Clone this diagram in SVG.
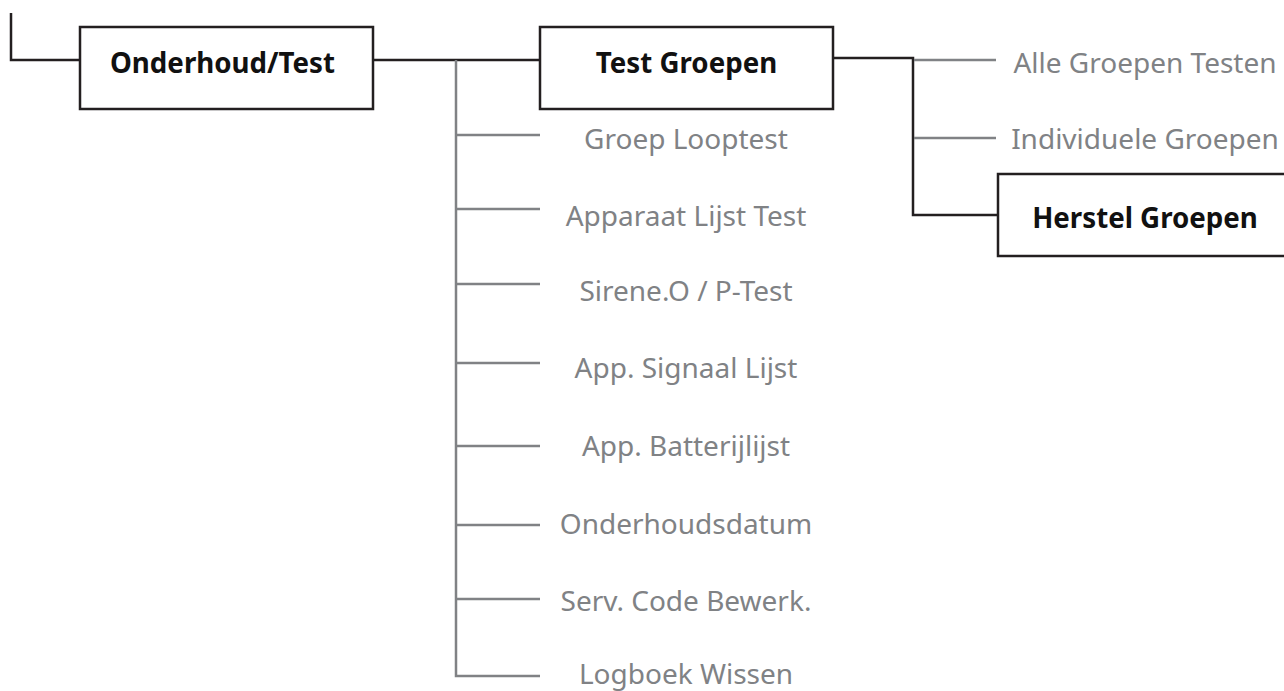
<svg xmlns="http://www.w3.org/2000/svg" width="1284" height="691" viewBox="0 0 1284 691">
<style>
.box{fill:#fff;stroke:#231f20;stroke-width:2.5}
.dk{fill:none;stroke:#231f20;stroke-width:2.5}
.gr{fill:none;stroke:#808285;stroke-width:2.5}
.bt{font-family:"Noto Sans","Open Sans",sans-serif;font-weight:bold;font-size:27.7px;fill:#111;text-anchor:middle}
.lt{font-family:"Noto Sans","Open Sans",sans-serif;font-size:28px;fill:#808285;text-anchor:middle}
</style>
<rect width="1284" height="691" fill="#fff"/>
<g id="connectors">
<polyline class="dk" points="11,13 11,60 80,60"/>
<line class="dk" x1="373" y1="60" x2="540" y2="60"/>
<polyline class="gr" points="456,60 456,676 540,676"/>
<line class="gr" x1="456" y1="135" x2="540" y2="135"/>
<line class="gr" x1="456" y1="209" x2="540" y2="209"/>
<line class="gr" x1="456" y1="284" x2="540" y2="284"/>
<line class="gr" x1="456" y1="363" x2="540" y2="363"/>
<line class="gr" x1="456" y1="446" x2="540" y2="446"/>
<line class="gr" x1="456" y1="525" x2="540" y2="525"/>
<line class="gr" x1="456" y1="599" x2="540" y2="599"/>
<polyline class="dk" points="833,58 913,58 913,215 998,215"/>
<line class="gr" x1="914" y1="60" x2="996" y2="60"/>
<line class="gr" x1="914" y1="138" x2="996" y2="138"/>
</g>
<g id="onderhoud"><rect class="box" x="80" y="27" width="293" height="82"/><text class="bt" x="222.5" y="73">Onderhoud/Test</text></g>
<g id="test-groepen"><rect class="box" x="540" y="27" width="293" height="82"/><text class="bt" x="686.5" y="73">Test Groepen</text></g>
<g id="herstel-groepen"><rect class="box" x="998" y="174" width="293" height="82"/><text class="bt" x="1145" y="228">Herstel Groepen</text></g>
<g id="groep-looptest"><text class="lt" x="686" y="149">Groep Looptest</text></g>
<g id="apparaat-lijst-test"><text class="lt" x="686" y="226">Apparaat Lijst Test</text></g>
<g id="sirene"><text class="lt" x="686" y="301">Sirene.O / P-Test</text></g>
<g id="app-signaal"><text class="lt" x="686" y="378">App. Signaal Lijst</text></g>
<g id="app-batterij"><text class="lt" x="686" y="456">App. Batterijlijst</text></g>
<g id="onderhoudsdatum"><text class="lt" x="686" y="534">Onderhoudsdatum</text></g>
<g id="serv-code"><text class="lt" x="686" y="611">Serv. Code Bewerk.</text></g>
<g id="logboek"><text class="lt" x="686" y="684">Logboek Wissen</text></g>
<g id="alle-groepen"><text class="lt" x="1145" y="73">Alle Groepen Testen</text></g>
<g id="individuele"><text class="lt" x="1145" y="149">Individuele Groepen</text></g>
</svg>
